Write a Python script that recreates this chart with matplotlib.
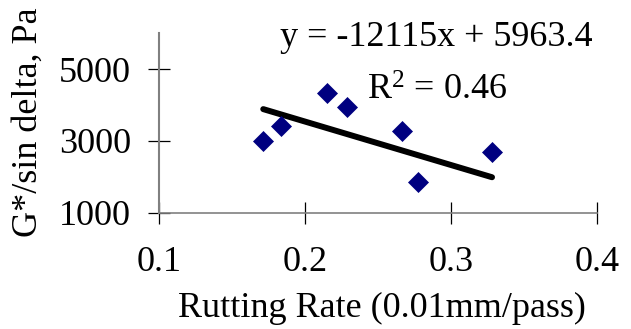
import matplotlib
matplotlib.use("Agg")
import matplotlib.pyplot as plt
import numpy as np

plt.rcParams['font.family'] = ['Liberation Serif', 'DejaVu Serif']
plt.rcParams['mathtext.fontset'] = 'custom'
plt.rcParams['mathtext.rm'] = 'Liberation Serif'
plt.rcParams['mathtext.it'] = 'Liberation Serif:italic'

# Data
rutting_rate = [0.1714, 0.1833, 0.2149, 0.2290, 0.2662, 0.2772, 0.3281]
g_sin_delta = [3008, 3418, 4339, 3948, 3268, 1856, 2693]
slope = -12115
intercept = 5963.4
r_squared = 0.46
x_ticks = [0.1, 0.2, 0.3, 0.4]
y_ticks = [1000, 3000, 5000]

FS = 26
W, H = 631, 329
fig = plt.figure(figsize=(W / 100, H / 100), dpi=100)
ax = fig.add_axes([159 / W, 1 - 212.7 / H, (597 - 159) / W, (212.7 - 33.3) / H])

ax.plot(rutting_rate, g_sin_delta, linestyle='none', marker='D', markersize=10,
        color='#000080', markeredgecolor='#000080', markeredgewidth=0.5, zorder=3)

xt = np.array([min(rutting_rate), max(rutting_rate)])
ax.plot(xt, slope * xt + intercept, color='black', linewidth=4.3,
        solid_capstyle='round', zorder=2)

ax.set_xlim(0.1, 0.4)
ax.set_ylim(1000, 6000)
ax.set_xticks(x_ticks)
ax.set_xticklabels([f"{v:.1f}" for v in x_ticks])
ax.set_yticks(y_ticks)
ax.set_yticklabels([str(v) for v in y_ticks])

for s in ['top', 'right']:
    ax.spines[s].set_visible(False)
ax.spines['left'].set_color('#808080')
ax.spines['left'].set_linewidth(1.5)
ax.spines['bottom'].set_color('#808080')
ax.spines['bottom'].set_linewidth(1.2)

ax.tick_params(axis='both', direction='inout', length=16.5, width=0.9,
               color='black', labelsize=FS)
ax.tick_params(axis='y', pad=12)
ax.tick_params(axis='x', pad=16)

fig.text(28 / W, 1 - 122 / H, "G*/sin delta, Pa", rotation=90, ha='center',
         va='center', fontsize=FS)
fig.text(382 / W, 1 - 316.7 / H, "Rutting Rate (0.01mm/pass)", ha='center',
         va='baseline', fontsize=FS)

fig.text(280 / W, 1 - 46 / H, f"y = {slope}x + {intercept}", ha='left',
         va='baseline', fontsize=FS)
fig.text(367 / W, 1 - 100 / H, f"R$^2$ = {r_squared:.2f}", ha='left',
         va='baseline', fontsize=FS)

fig.savefig("out.png", dpi=100, facecolor='white')
